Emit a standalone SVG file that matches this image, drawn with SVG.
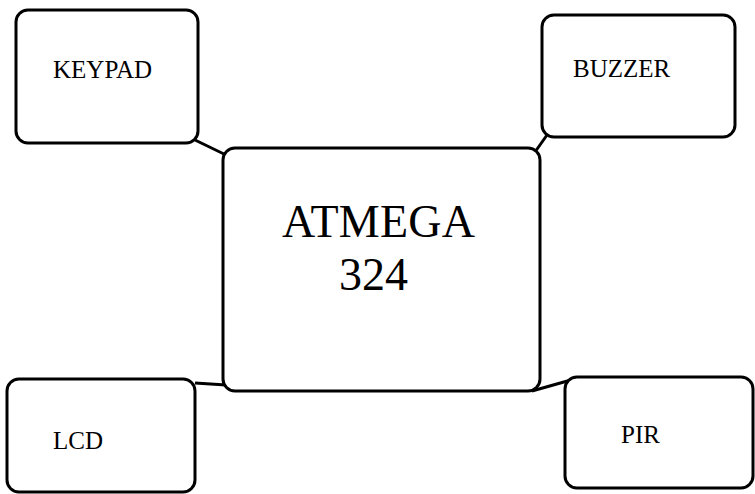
<svg xmlns="http://www.w3.org/2000/svg" width="755" height="494" viewBox="0 0 755 494">
<style>
.box{fill:#fff;stroke:#000;stroke-width:3}
.lbl{font-family:"Liberation Serif","Times New Roman",serif;font-size:25px;fill:#000}
.big{font-family:"Liberation Serif","Times New Roman",serif;font-size:46px;fill:#000}
.con{stroke:#000;stroke-width:3;fill:none}
</style>
<rect width="755" height="494" fill="#fff"/>
<g id="connectors">
<line class="con" x1="195" y1="140" x2="226" y2="155"/>
<line class="con" x1="547" y1="135" x2="535" y2="152"/>
<line class="con" x1="195" y1="383" x2="226" y2="385"/>
<line class="con" x1="532" y1="391" x2="571" y2="380"/>
</g>
<g id="keypad">
<rect class="box" x="16" y="10" width="182" height="133" rx="12"/>
<text class="lbl" x="53" y="78">KEYPAD</text>
</g>
<g id="buzzer">
<rect class="box" x="542" y="15" width="193" height="122" rx="12"/>
<text class="lbl" x="573" y="77">BUZZER</text>
</g>
<g id="atmega">
<rect class="box" x="223" y="148" width="317" height="243" rx="12"/>
<text class="big" x="282" y="237" textLength="193" lengthAdjust="spacing">ATMEGA</text>
<text class="big" x="339" y="290">324</text>
</g>
<g id="lcd">
<rect class="box" x="7" y="379" width="188" height="113" rx="12"/>
<text class="lbl" x="53" y="449">LCD</text>
</g>
<g id="pir">
<rect class="box" x="565" y="377" width="188" height="111" rx="12"/>
<text class="lbl" x="621" y="443">PIR</text>
</g>
</svg>
